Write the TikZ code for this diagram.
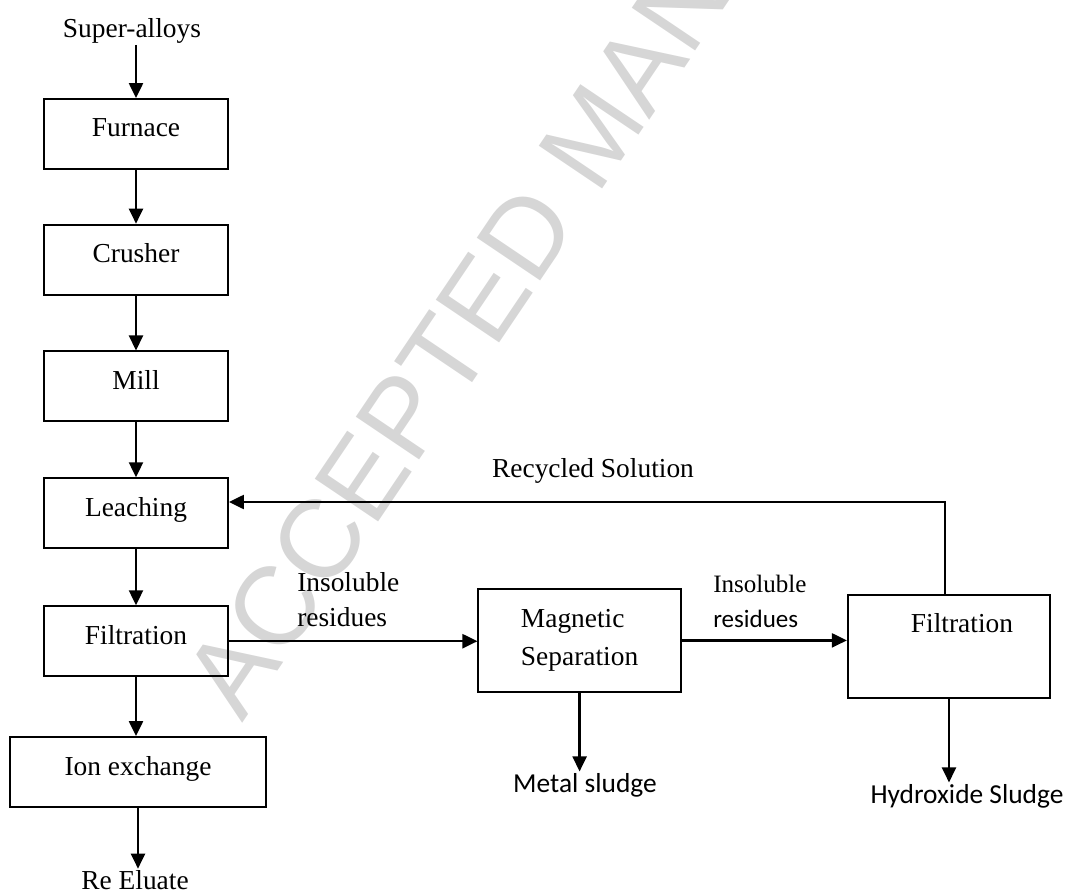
\documentclass[tikz,border=0pt]{standalone}
\usepackage{fontspec}
\setmainfont{Liberation Serif}
\newfontfamily\calibrifont{Carlito}
\newfontfamily\markfont{Liberation Sans}
\usetikzlibrary{arrows.meta}
\tikzset{
  >={Triangle[length=3.75mm,width=3.5mm]},
  blk/.style={rectangle, draw, line width=1.3pt, font=\fontsize{19.5}{27}\selectfont},
  proc/.style={blk, minimum width=4.6cm, minimum height=1.75cm, text height=0.55cm, text depth=0.4cm},
  unit/.style={blk, minimum width=5.06cm, minimum height=2.575cm},
  flow/.style={->, line width=1.6pt},
  lbl/.style={inner sep=1pt, font=\fontsize{19.5}{24.9}\selectfont},
  cal/.style={inner sep=1pt, font=\calibrifont\fontsize{19.5}{24.9}\selectfont}
}
\begin{document}
\begin{tikzpicture}
    \useasboundingbox (0,0) rectangle (26.7,-22.375);
    \clip (0,0) rectangle (26.7,-22.375);

    % Watermark
    \node[rotate=56, anchor=base west, inner sep=0, text=black!16,
          font=\markfont\fontsize{79}{79}\selectfont] (stamp) at (6.05,-18.1) {ACCEPTED MANUSCRIPT};

    % Main column
    \node[lbl] (alloys) at (3.3,-0.765) {Super-alloys};
    \node[proc] (furnace) at (3.4,-3.35) {Furnace};
    \node[proc] (crusher) at (3.4,-6.49) {Crusher};
    \node[proc] (mill) at (3.4,-9.66) {Mill};
    \node[proc] (leach) at (3.4,-12.83) {Leaching};
    \node[proc] (filt) at (3.4,-16.03) {Filtration};
    \node[proc, minimum width=6.4cm] (ionex) at (3.45,-19.3) {Ion exchange};
    \node[lbl] (eluate) at (3.375,-22.0) {Re Eluate};

    % Residue branch
    \node[unit, align=left] (magsep) at (14.49,-16.01) {Magnetic\\Separation};
    \node[unit] (fbox) at (23.725,-16.16) {};
    \node[lbl] (ftext) at (24.05,-15.575) {Filtration};
    \node[cal] (metal) at (14.625,-19.625) {Metal sludge};
    \node[cal] (hydro) at (24.175,-19.9) {Hydroxide Sludge};

    % Stream labels
    \node[lbl, anchor=south west, inner sep=0, align=left] (res1) at (7.425,-15.675) {Insoluble\\residues};
    \node[anchor=south west, inner sep=0, align=left, font=\fontsize{17.8}{24.9}\selectfont]
        (res2) at (17.825,-15.7) {Insoluble\\{\calibrifont residues}};
    \node[lbl] (recyc) at (14.825,-11.765) {Recycled Solution};
    \coordinate (turn) at (23.625,-12.55);

    % Arrows
    \draw[flow] (alloys.south -| furnace.north) -- (furnace.north);
    \draw[flow] (furnace) -- (crusher);
    \draw[flow] (crusher) -- (mill);
    \draw[flow] (mill) -- (leach);
    \draw[flow] (leach) -- (filt);
    \draw[flow] (filt.south) -- (filt.south |- ionex.north);
    \draw[flow] (ionex.south) -- (ionex.south |- eluate.north);
    \draw[flow] (filt.east) -- (filt.east -| magsep.west);
    \draw[flow] (magsep.east) -- (magsep.east -| fbox.west);
    \draw[flow] (fbox.north -| turn) -- (turn) -- (turn -| leach.east);
    \draw[flow] (magsep.south) -- (magsep.south |- metal.north);
    \draw[flow] (fbox.south) -- (fbox.south |- hydro.north);
\end{tikzpicture}
\end{document}
